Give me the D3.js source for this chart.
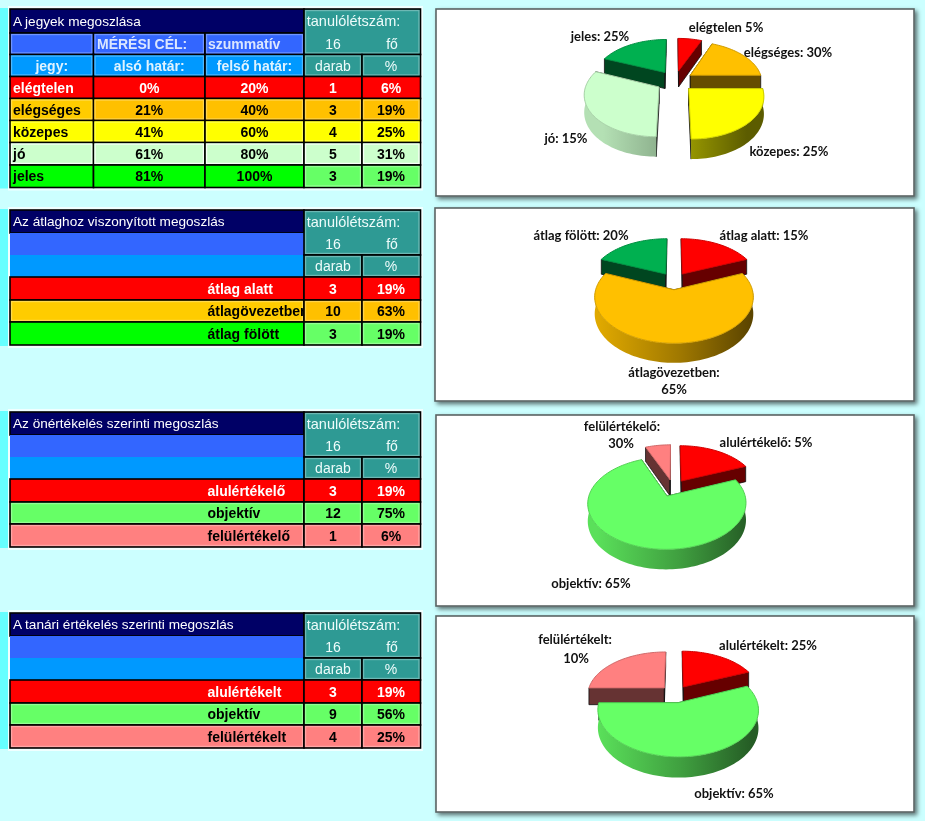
<!DOCTYPE html>
<html><head><meta charset="utf-8">
<script src="https://cdn.jsdelivr.net/npm/d3@7"></script>
<style>html,body{margin:0;padding:0;background:#ccffff;overflow:hidden}svg{display:block;filter:blur(0.35px)}</style>
</head><body>
<script>
// ---------- data ----------
const titles = ["A jegyek megoszlása","Az átlaghoz viszonyított megoszlás","Az önértékelés szerinti megoszlás","A tanári értékelés szerinti megoszlás"];
const classSize = 16;
const gradeNames = ["elégtelen","elégséges","közepes","jó","jeles"];
const gradeLower = ["0%","21%","41%","61%","81%"];
const gradeUpper = ["20%","40%","60%","80%","100%"];
const gradeCounts = [1,3,4,5,3];
const gradePct = ["6%","19%","25%","31%","19%"];
const avgNames = ["átlag alatt","átlagövezetben","átlag fölött"];
const avgCounts = [3,10,3];
const avgPct = ["19%","63%","19%"];
const selfNames = ["alulértékelő","objektív","felülértékelő"];
const selfCounts = [3,12,1];
const selfPct = ["19%","75%","6%"];
const teacherNames = ["alulértékelt","objektív","felülértékelt"];
const teacherCounts = [3,9,4];
const teacherPct = ["19%","56%","25%"];
const gradeLabels = [["elégtelen 5%"],["elégséges: 30%"],["közepes: 25%"],["jó: 15%"],["jeles: 25%"]];
const avgLabels = [["átlag alatt: 15%"],["átlagövezetben:","65%"],["átlag fölött: 20%"]];
const selfLabels = [["alulértékelő: 5%"],["objektív: 65%"],["felülértékelő:","30%"]];
const teacherLabels = [["alulértékelt: 25%"],["objektív: 65%"],["felülértékelt:","10%"]];

// ---------- styles & layout ----------
const C = {red:"#ff0000",orange:"#ffc000",amber:"#ffcc00",yellow:"#ffff00",pale:"#ccffcc",lime:"#00ff00",mint:"#66ff66",pink:"#ff8080",green:"#00b050",
  navy:"#000066",teal:"#2e9a94",blue:"#3366ff",sky:"#0099ff"};
const colX = [10,93.5,205,304,362,420.5];
const rowH = [24,21.5,22,22,22,22,22.5,22.5];
const svg = d3.select("body").append("svg").attr("width",925).attr("height",821);
const defs = svg.append("defs");
const sh = defs.append("filter").attr("id","sh").attr("x","-5%").attr("y","-5%").attr("width","112%").attr("height","112%");
sh.append("feDropShadow").attr("dx",2.5).attr("dy",2.5).attr("stdDeviation",2).attr("flood-color","#000").attr("flood-opacity",.55);
const TF = "'Liberation Sans',Arial,sans-serif", LF = "Lato,'Open Sans',sans-serif";
const noGlow = new Set([C.red,C.navy,C.lime]);

function cell(g,x0,x1,y0,y1,fill,stroke){
  g.append("rect").attr("x",x0).attr("y",y0).attr("width",x1-x0).attr("height",y1-y0).attr("fill",fill)
   .attr("stroke",stroke||"#000").attr("stroke-width",stroke==="none"?0:1.6);
  if(stroke!=="none" && !noGlow.has(fill)){
    g.append("rect").attr("x",x0+1.6).attr("y",y0+1.6).attr("width",x1-x0-3.2).attr("height",y1-y0-3.2).attr("fill","none")
     .attr("stroke",d3.interpolateRgb(fill,"#fff")(fill===C.pale?.85:.3)).attr("stroke-width",1.2);
  }
}
function txt(g,x,y,s,o={}){
  return g.append("text").attr("x",x).attr("y",y).attr("dy","0.36em").text(s)
   .attr("font-family",o.font||TF).attr("font-size",o.size||14).attr("font-weight",o.weight||"bold")
   .attr("fill",o.fill||"#000").attr("text-anchor",o.anchor||"middle").attr("clip-path",o.clip||null);
}
function headerRight(g,ys){
  const teal=C.teal, w="#eefcfb";
  cell(g,colX[3],colX[5],ys[0],ys[2],teal);
  txt(g,353.5,(ys[0]+ys[1])/2,"tanulólétszám:",{fill:w,weight:"normal",size:14.5});
  txt(g,333,(ys[1]+ys[2])/2,classSize,{fill:w,weight:"normal"});
  txt(g,392,(ys[1]+ys[2])/2,"fő",{fill:w,weight:"normal"});
  cell(g,colX[3],colX[4],ys[2],ys[3],teal); cell(g,colX[4],colX[5],ys[2],ys[3],teal);
  txt(g,333,(ys[2]+ys[3])/2,"darab",{fill:w,weight:"normal"});
  txt(g,391,(ys[2]+ys[3])/2,"%",{fill:w,weight:"normal"});
}
function drawFrame(top,bottom){
  svg.append("rect").attr("x",0).attr("y",top-1).attr("width",8).attr("height",bottom-top+2).attr("fill","#66ffff");
  svg.append("rect").attr("x",8).attr("y",top-3).attr("width",415).attr("height",bottom-top+6).attr("fill","#f0ffff");
}
function gradeTable(top){
  let ys=[top]; rowH.forEach(h=>ys.push(ys[ys.length-1]+h));
  drawFrame(top,ys[8]);
  const g=svg.append("g");
  cell(g,colX[0],colX[3],ys[0],ys[1],C.navy);
  txt(g,13,(ys[0]+ys[1])/2,titles[0],{fill:"#fff",anchor:"start",weight:"normal",size:13.6});
  cell(g,colX[0],colX[1],ys[1],ys[2],C.blue); cell(g,colX[1],colX[2],ys[1],ys[2],C.blue); cell(g,colX[2],colX[3],ys[1],ys[2],C.blue);
  txt(g,97,(ys[1]+ys[2])/2,"MÉRÉSI CÉL:",{fill:"#dbe6ff",anchor:"start"});
  txt(g,208,(ys[1]+ys[2])/2,"szummatív",{fill:"#dbe6ff",anchor:"start"});
  ["jegy:","alsó határ:","felső határ:"].forEach((s,i)=>{
    cell(g,colX[i],colX[i+1],ys[2],ys[3],C.sky);
    txt(g,(colX[i]+colX[i+1])/2,(ys[2]+ys[3])/2,s,{fill:"#dff3ff"});
  });
  headerRight(g,ys);
  const fills=[[C.red,C.red,C.red],[C.amber,C.orange,C.orange],[C.yellow,C.yellow,C.yellow],[C.pale,C.pale,C.pale],[C.lime,C.lime,C.mint]];
  const inks=["#fff","#000","#000","#000","#000"];
  gradeNames.forEach((n,r)=>{
    const y0=ys[r+3],y1=ys[r+4],ym=(y0+y1)/2,f=fills[r];
    cell(g,colX[0],colX[1],y0,y1,f[0]); cell(g,colX[1],colX[2],y0,y1,f[1]); cell(g,colX[2],colX[3],y0,y1,f[1]);
    cell(g,colX[3],colX[4],y0,y1,f[2]); cell(g,colX[4],colX[5],y0,y1,f[2]);
    txt(g,13,ym,n,{fill:inks[r],anchor:"start"});
    txt(g,(colX[1]+colX[2])/2,ym,gradeLower[r],{fill:inks[r]});
    txt(g,(colX[2]+colX[3])/2,ym,gradeUpper[r],{fill:inks[r]});
    txt(g,333,ym,gradeCounts[r],{fill:inks[r]});
    txt(g,391,ym,gradePct[r],{fill:inks[r]});
  });
}
function smallTable(id,top,title,names,counts,pct,fills,inks){
  const ys=[top,top+23,top+45,top+67,top+90,top+112,top+135];
  drawFrame(top,ys[6]);
  const g=svg.append("g");
  defs.append("clipPath").attr("id","cl"+id).append("rect").attr("x",colX[0]).attr("y",top).attr("width",colX[3]-colX[0]-1).attr("height",140);
  cell(g,colX[0],colX[3],ys[0],ys[1],C.navy);
  txt(g,13,(ys[0]+ys[1])/2,title,{fill:"#fff",anchor:"start",weight:"normal",size:13.6});
  cell(g,colX[0],colX[3],ys[1],ys[2],C.blue,"none");
  cell(g,colX[0],colX[3],ys[2],ys[3],C.sky,"none");
  headerRight(g,ys);
  names.forEach((n,r)=>{
    const y0=ys[r+3],y1=ys[r+4],ym=(y0+y1)/2,f=fills[r];
    cell(g,colX[0],colX[3],y0,y1,f[0]);
    cell(g,colX[3],colX[4],y0,y1,f[1]); cell(g,colX[4],colX[5],y0,y1,f[1]);
    txt(g,207.5,ym,n,{fill:inks[r],anchor:"start",clip:`url(#cl${id})`});
    txt(g,333,ym,counts[r],{fill:inks[r]});
    txt(g,391,ym,pct[r],{fill:inks[r]});
  });
}
gradeTable(9);
smallTable(2,210,titles[1],avgNames,avgCounts,avgPct,[[C.red,C.red],[C.amber,C.orange],[C.lime,C.mint]],["#fff","#000","#000"]);
smallTable(3,412,titles[2],selfNames,selfCounts,selfPct,[[C.red,C.red],[C.mint,C.mint],[C.pink,C.pink]],["#fff","#000","#000"]);
smallTable(4,613,titles[3],teacherNames,teacherCounts,teacherPct,[[C.red,C.red],[C.mint,C.mint],[C.pink,C.pink]],["#fff","#000","#000"]);

// ---------- 3-D exploded pies ----------
const shade=(c,f)=>{const r=d3.rgb(c);return d3.rgb(r.r*f,r.g*f,r.b*f).formatHex();};
const lineGen=d3.line().x(d=>d[0]).y(d=>d[1]);
const DEG=Math.PI/180;
function pie3d(id,opt){
  const {panel,cx,cy,R,t,p,H,e,values,colors,labels,labelPos}=opt;
  const g=svg.append("g");
  g.append("rect").attr("x",panel[0]).attr("y",panel[1]).attr("width",panel[2]-panel[0]).attr("height",panel[3]-panel[1])
    .attr("fill","#fff").attr("stroke","#5a6464").attr("stroke-width",1.6).attr("filter","url(#sh)");
  const arcs=d3.pie().sort(null).value(d=>d)(values).map((a,i)=>({...a,i,mid:(a.startAngle+a.endAngle)/2}));
  const sx=d3.scaleLinear().domain([-1,1]).range([cx-R,cx+R]);
  const sy=d3.scaleLinear().domain([-1,1]).range([cy+R*t,cy-R*t]);
  const proj=(a,r,mid,z)=>{
    const X=r*Math.sin(a)+e*Math.sin(mid), Y=r*Math.cos(a)+e*Math.cos(mid), w=1+p*Y;
    return [sx(X/w), sy(Y/w)+H*z/w];
  };
  const samples=(a0,a1)=>{const n=Math.max(2,Math.ceil((a1-a0)/(2*DEG)));return d3.range(n+1).map(k=>a0+(a1-a0)*k/n);};
  arcs.forEach(a=>{
    const grad=defs.append("linearGradient").attr("id",`wall${id}_${a.i}`).attr("gradientUnits","userSpaceOnUse")
      .attr("x1",cx-R).attr("x2",cx+R).attr("y1",0).attr("y2",0);
    [[0,.88],[.55,.62],[1,.36]].forEach(s=>grad.append("stop").attr("offset",s[0]).attr("stop-color",shade(colors[a.i],s[1])));
  });
  arcs.slice().sort((u,v)=>Math.cos(v.mid)-Math.cos(u.mid)).forEach(a=>{
    const c=colors[a.i], s=g.append("g");
    [a.startAngle,a.endAngle].forEach(ang=>{
      const q=[proj(ang,0,a.mid,0),proj(ang,1,a.mid,0),proj(ang,1,a.mid,1),proj(ang,0,a.mid,1)];
      s.append("path").attr("d",lineGen(q)+"Z").attr("fill",shade(c,.4)).attr("stroke","#111").attr("stroke-width",.8);
    });
    const f0=Math.max(a.startAngle,90*DEG), f1=Math.min(a.endAngle,270*DEG);
    if(f1>f0){
      const ang=samples(f0,f1);
      const pts=ang.map(v=>proj(v,1,a.mid,0)).concat(ang.slice().reverse().map(v=>proj(v,1,a.mid,1)));
      s.append("path").attr("d",lineGen(pts)+"Z").attr("fill",`url(#wall${id}_${a.i})`);
    }
    const top=[proj(0,0,a.mid,0)].concat(samples(a.startAngle,a.endAngle).map(v=>proj(v,1,a.mid,0)));
    s.append("path").attr("d",lineGen(top)+"Z").attr("fill",c).attr("stroke",shade(c,.82)).attr("stroke-width",1).attr("stroke-linejoin","round");
  });
  labels.forEach((ls,i)=>ls.forEach((l,j)=>{
    const pos=labelPos[i][j];
    txt(g,pos[0],pos[1],l,{font:LF,size:13,weight:"bold",fill:"#111"});
  }));
}
pie3d(1,{panel:[436,9,914,196],cx:675,cy:81,R:72,t:.56,p:.15,H:16.5,e:.26,values:gradeCounts,
  colors:[C.red,C.orange,C.yellow,C.pale,C.green],labels:gradeLabels,
  labelPos:[[[726,27]],[[788,52]],[[789,151]],[[566,138]],[[600,36]]]});
pie3d(2,{panel:[435,208,914,401],cx:674,cy:281,R:76,t:.56,p:.15,H:16,e:.2,values:avgCounts,
  colors:[C.red,C.orange,C.green],labels:avgLabels,
  labelPos:[[[764,235]],[[674,372],[674,389]],[[581,235]]]});
pie3d(3,{panel:[436,415,914,606],cx:673,cy:488,R:76,t:.56,p:.15,H:16.5,e:.2,values:selfCounts,
  colors:[C.red,C.mint,C.pink],labels:selfLabels,
  labelPos:[[[766,442]],[[591,583]],[[622,426],[621,443]]]});
pie3d(4,{panel:[436,616,914,812],cx:675,cy:694,R:77,t:.56,p:.15,H:17,e:.2,values:teacherCounts,
  colors:[C.red,C.mint,C.pink],labels:teacherLabels,
  labelPos:[[[768,645]],[[734,793]],[[575,639],[576,658]]]});
</script>
</body></html>
